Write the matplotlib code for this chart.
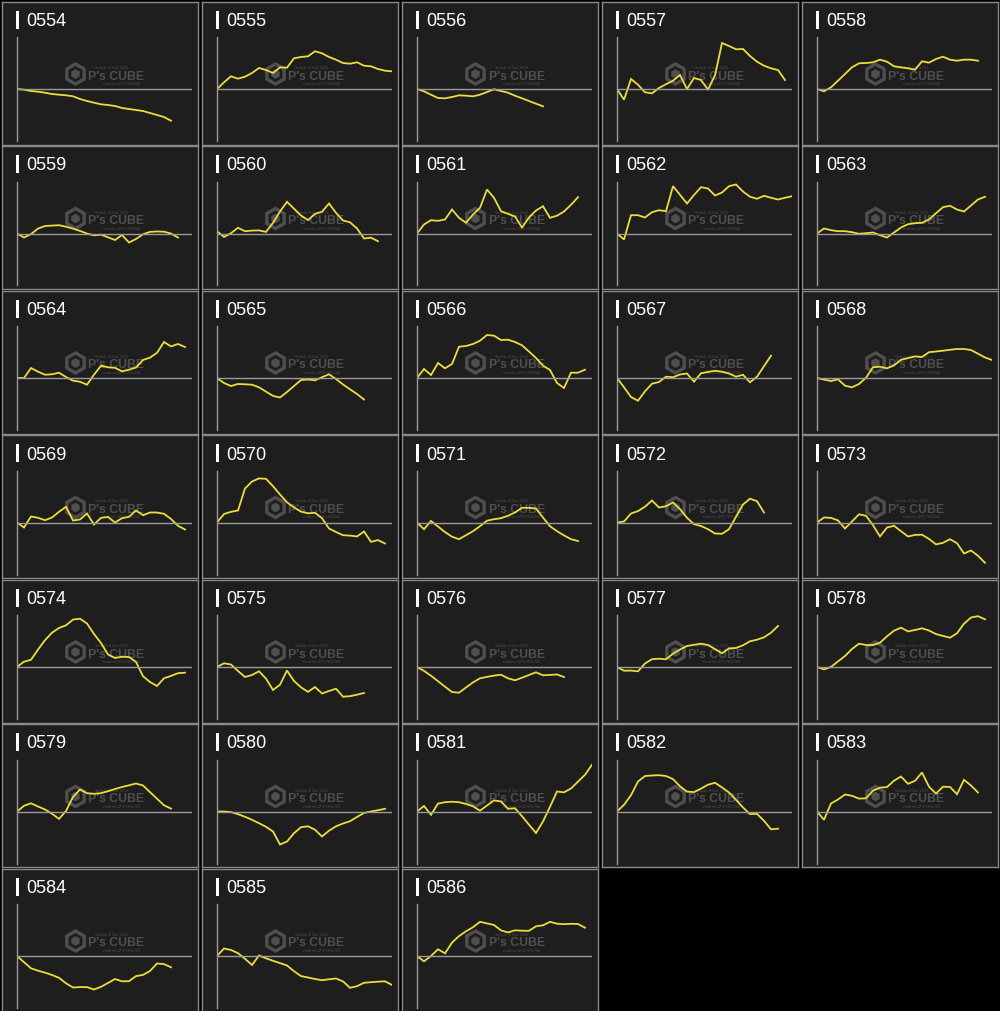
"""
Small-multiples grid of price moves per stock code (0554-0586).
"""

import matplotlib
matplotlib.use("Agg")
import matplotlib.pyplot as plt
from matplotlib.patches import Rectangle, RegularPolygon

# --- data: move vs. first day, one value per trading step ---
codes = ["0554", "0555", "0556", "0557", "0558", "0559", "0560", "0561", "0562",
         "0563", "0564", "0565", "0566", "0567", "0568", "0569", "0570", "0571",
         "0572", "0573", "0574", "0575", "0576", "0577", "0578", "0579", "0580",
         "0581", "0582", "0583", "0584", "0585", "0586"]

s0554 = [0, -0.7, -2, -2.7, -3.7, -5, -5.7, -6.3, -7.3, -10, -12, -13.7, -15.3, -16,
         -17, -19, -20, -21, -22, -24, -26, -28, -31.7]
s0555 = [0, 6.7, 12.7, 10.3, 12.3, 16, 21, 19, 16, 21.7, 21.3, 30.7, 32, 32.7, 37.7,
         35.7, 32, 29.3, 26, 25.3, 26.7, 23.3, 22.7, 20, 18.3, 17.7]
s0556 = [0, -2.3, -5.7, -9, -9.3, -8, -6.3, -6.7, -7.3, -5.7, -3, -0.3, -2, -3.7,
         -6.7, -9.3, -12, -14.7, -17.3]
s0557 = [0, -10.7, 10, 4.3, -3.3, -4.3, 1, 4.8, 8.3, 14, 0, 11, 9, -0.7, 13.7, 46,
         43, 39.7, 40, 33, 27.3, 23.3, 20.7, 19, 9]
s0558 = [0, -2.3, 1.7, 8.3, 15, 21.7, 25.7, 26, 26.7, 29.3, 27.3, 22.7, 21.7, 20.7,
         19.3, 27.7, 26.3, 30, 32.3, 29.3, 28.3, 29.3, 29.3, 28.3]
s0559 = [0, -4, -0.6, 4.9, 7.5, 7.9, 8.3, 6.8, 4.9, 2.6, -0.1, -1.8, -1.2, -3.8,
         -6.5, -1.5, -9, -5.5, -0.8, 1.6, 2, 1.8, 0, -4]
s0560 = [2.3, -3.5, 0.3, 5.7, 2.3, 2.9, 3.1, 1.6, 10.6, 22, 31.7, 24.8, 18, 13.4,
         19.6, 21.8, 30, 20.7, 13, 11.2, 5.1, -5, -4.2, -7.7]
s0561 = [0, 9, 13.3, 12.7, 14, 24, 15.7, 10.7, 19, 25.7, 44, 35.7, 22.3, 19.7, 17,
         6, 16, 23, 27.3, 15.7, 17.8, 22, 28.7, 36.3]
s0562 = [0, -6, 18.3, 18.3, 16, 21.3, 23.3, 22.3, 47.3, 38.7, 30, 38.5, 46.3, 45,
         38, 41, 47.3, 49, 42, 36.8, 34.7, 37.7, 35.7, 34, 35.7, 37.3]
s0563 = [0, 5, 3.3, 2.3, 2.3, 1.3, -0.3, 0.3, 1, -1.7, -4, 1, 6, 9.3, 10.3, 10.7,
         14, 20.3, 26.3, 27.7, 24, 22, 28, 34, 36.7]
s0564 = [0, 0, 10, 6.3, 3.3, 3.7, 5.3, 1, -2.7, -3.7, -6.7, 3.3, 12.3, 10.7, 10.2,
         6.7, 8.3, 10.5, 18, 20.4, 25.2, 36, 31.6, 34, 31]
s0565 = [0, -5, -8, -6, -6.3, -6.7, -9.3, -13.6, -17.9, -19.5, -14, -8, -2, -1.5,
         -2.3, 0.8, 3.7, -1, -6.4, -11.3, -16, -21.5]
s0566 = [0, 9, 3, 15, 9.7, 14, 31.3, 32, 34, 37.3, 43, 42.3, 38, 38.3, 36, 32.7,
         26.5, 20, 12.3, 8, -5, -10, 5.3, 5.3, 8.3]
s0567 = [0, -9.3, -19, -22.7, -13.3, -5.7, -4, 1.3, 0.8, 3.5, 4.5, -3.7, 4.7, 6.1,
         7.2, 6.3, 4.5, 1.3, 3.2, -4.3, 1.3, 11.8, 22.3]
s0568 = [0, -1.6, -3, -1.3, -7.7, -9.3, -6, 0.2, 10.8, 11.3, 9.7, 12.6, 18.2, 19.9,
         21.6, 21, 25.8, 26.5, 27.3, 28.2, 29, 29, 28, 24.3, 20.5, 18]
s0569 = [0, -5, 6, 4.7, 2.3, 5, 10.7, 15.7, 2, 3, 9, -2, 4.7, 5.5, 0, 4.3, 5.7, 12,
         7.3, 10, 10, 8.7, 3.5, -3.3, -7]
s0570 = [0, 8.5, 10.7, 12, 34, 41, 44.1, 43.7, 36.3, 28, 20.2, 15, 10.9, 9.2, 9.7,
         4.3, -6, -9.5, -12.7, -13.1, -14, -9, -19.3, -17.6, -21]
s0571 = [0, -6.7, 1.5, -4, -9.6, -14.2, -16.7, -12.7, -8.7, -3.7, 1.8, 3.3, 4.3,
         6.8, 10, 14.7, 14.7, 14, 5, -3.7, -8.7, -12.9, -16.7, -18.5]
s0572 = [0, 1, 9, 11.4, 15.8, 22, 15, 16.3, 20, 13.4, 4.7, -1.7, -3.5, -6.7, -11,
         -11.3, -6.7, 5.7, 18, 23.8, 21.3, 10]
s0573 = [0, 5, 4.6, 2.1, -6, 1, 8.2, 6.7, -2.7, -14, -5, -3.3, -8.7, -14, -12.4,
         -12.2, -16.4, -21.9, -20.3, -16.7, -20.7, -31, -28, -33.3, -40.3]
s0574 = [0, 5.3, 7.2, 17.5, 26.8, 34.3, 39, 41.7, 47.4, 48.3, 43.5, 33, 24, 12.5, 9,
         10.3, 10, 5.1, -9.2, -15, -19, -11.3, -8.9, -6.2, -5.7]
s0575 = [0, 3.7, 2.5, -4, -10, -8, -4.3, -11.6, -23, -17.7, -3.5, -14, -20.3, -24.9,
         -20, -26.5, -24, -21.7, -29.7, -29.2, -27.7, -26]
s0576 = [0, -3.9, -8.7, -14.2, -19.7, -25, -25.7, -20.5, -15.4, -11.3, -9.9, -8.6,
         -7.7, -11.3, -13.3, -10.7, -8, -5.3, -8.3, -7.9, -7.5, -10]
s0577 = [0, -3.7, -3.6, -4.3, 3.5, 7.8, 8.3, 7.7, 13.3, 17.5, 21, 22.2, 23.3, 22, 18,
         13.7, 18.7, 19, 21.7, 25.7, 27.3, 29.7, 34.3, 41]
s0578 = [0, -2.4, 0.1, 5.6, 11, 18, 23.3, 22, 21.9, 24.3, 30.7, 36.3, 39.3, 35.6, 37,
         38.7, 36.5, 32.9, 31.1, 29.3, 33.7, 43.3, 49.5, 50.8, 47.7]
s0579 = [0, 5.7, 8.2, 5, 2, -2.2, -7.4, 0.5, 14.5, 22, 18.3, 17.7, 18.3, 20.3, 22.5,
         24.5, 26.2, 28, 26, 19.4, 12.8, 6.2, 2.9]
s0580 = [0, 0, -0.6, -2.7, -5.3, -8.3, -11.7, -15.3, -20, -33, -30, -21.7, -15.7,
         -14.8, -18.2, -25, -19.2, -14.8, -12, -9.7, -5.5, -1.4, 0, 1.3, 2.7]
s0581 = [0, 5.5, -3.3, 7.9, 9.3, 9.8, 9.3, 7.5, 5.2, 0.8, 6, 11.1, 10, 2.7, 3.2,
         -4.7, -13.2, -21.5, -10, 4.7, 20, 19.2, 23, 29.9, 36.7, 46.7]
s0582 = [0, 6.7, 16.3, 30, 35.5, 36, 36.3, 35.5, 32.4, 25.2, 19.9, 19.4, 22.9, 26.8,
         28.7, 24.1, 19, 11.7, 4, -2.6, -2.4, -9.3, -17.8, -17.2]
s0583 = [0, -8.3, 8, 12, 17, 15.7, 12.9, 13.2, 20.8, 23.9, 24.4, 30.8, 35, 27.7,
         30.7, 39, 24.8, 17.9, 24.8, 24.5, 17.3, 31.7, 26, 19]
s0584 = [0, -6.2, -12.3, -14.7, -16.6, -19, -21.8, -27.3, -31.5, -31.1, -31.1,
         -33.5, -30.8, -27, -23, -25.3, -25.2, -20.1, -18.9, -15, -7.5, -8.1, -11.3]
s0585 = [0, 7.5, 6, 2.8, -2.8, -9, 0.5, -2.3, -4.8, -7.1, -9.5, -15.2, -20.1, -21.5,
         -23, -24.2, -23.3, -22.5, -25.4, -31.8, -30.2, -26.8, -26.2, -25.7, -25.3, -29]
s0586 = [0, -5.3, 0, 6.7, 2.7, 13.4, 19.9, 24.7, 28.8, 34.2, 32.6, 31, 25.6, 23.6,
         25.7, 25.3, 25.2, 29.7, 30.7, 34.2, 32.3, 31.8, 32.2, 32, 28.3]

series = [s0554, s0555, s0556, s0557, s0558, s0559, s0560, s0561, s0562, s0563,
          s0564, s0565, s0566, s0567, s0568, s0569, s0570, s0571, s0572, s0573,
          s0574, s0575, s0576, s0577, s0578, s0579, s0580, s0581, s0582, s0583,
          s0584, s0585, s0586]

N_STEPS = 25
Y_RANGE = 52

W, H = 1000, 1012
PANEL_W, PANEL_H = 196, 143
LINE_COLOR = "#ecdc3c"
AXIS_COLOR = "#9a9a9a"
MARK_COLOR = "#4f4f4f"

fig = plt.figure(figsize=(W / 100, H / 100), dpi=100, facecolor="black")


def px_axes(x, y, w, h):
    return fig.add_axes([x / W, 1 - (y + h) / H, w / W, h / H])


for i, (code, values) in enumerate(zip(codes, series)):
    row, col = divmod(i, 5)
    left = 2 + 200 * col
    top = 2.5 + 144.5 * row

    # panel frame, label and watermark
    panel = px_axes(left, top, PANEL_W, PANEL_H)
    panel.set_facecolor("#1e1e1e")
    panel.set_xlim(0, PANEL_W)
    panel.set_ylim(PANEL_H, 0)
    panel.set_xticks([])
    panel.set_yticks([])
    for spine in panel.spines.values():
        spine.set_color("#8a8a8a")
        spine.set_linewidth(1)

    panel.add_patch(Rectangle((14, 9), 3, 18, color="white", lw=0))
    panel.text(24, 19, code, color="white", fontsize=13,
               family="Liberation Sans", va="center", ha="left")

    panel.add_patch(RegularPolygon((73.5, 72.5), 6, radius=10, fill=False,
                                   ec=MARK_COLOR, lw=2.4))
    panel.add_patch(RegularPolygon((73.5, 72.5), 6, radius=4, color=MARK_COLOR))
    panel.text(86.5, 74, "P's CUBE", color=MARK_COLOR, fontsize=8.8,
               fontweight="bold", family="Liberation Sans", va="center", ha="left")
    panel.text(92, 65.5, "Yoshida 8 Sat 2015", color=MARK_COLOR, fontsize=2.6,
               va="center", ha="left")
    panel.text(101, 81.5, "makes LIFE HOUSE", color=MARK_COLOR, fontsize=2.8,
               va="center", ha="left")

    # chart area
    ax = px_axes(left + 15, top + 35.5, 175, 104)
    ax.set_facecolor("none")
    ax.plot(range(len(values)), values, color=LINE_COLOR, lw=1.3,
            solid_joinstyle="miter")
    ax.axhline(0, color=AXIS_COLOR, lw=1)
    ax.set_xlim(0, N_STEPS)
    ax.set_ylim(-Y_RANGE, Y_RANGE)
    ax.set_xticks([])
    ax.set_yticks([])
    for side in ["top", "right", "bottom"]:
        ax.spines[side].set_visible(False)
    ax.spines["left"].set_color(AXIS_COLOR)
    ax.spines["left"].set_linewidth(1)

fig.savefig("out.png", dpi=100, facecolor="black")
